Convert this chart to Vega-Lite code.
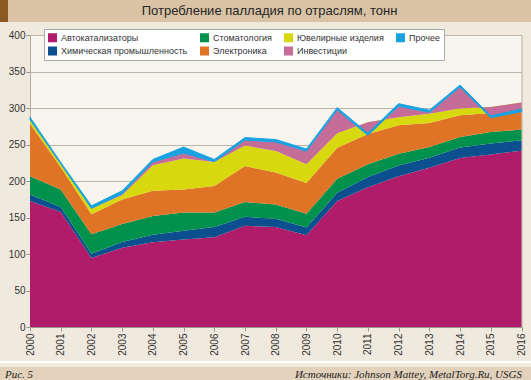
{
  "$schema": "https://vega.github.io/schema/vega-lite/v6.json",
  "background": "#f0e9dd",
  "padding": 0,
  "config": {
    "font": "Liberation Sans",
    "view": {"stroke": null}
  },
  "datasets": {
    "series": [
      {"cat": "Автокатализаторы", "rank": 1},
      {"cat": "Химическая промышленность", "rank": 2},
      {"cat": "Стоматология", "rank": 3},
      {"cat": "Электроника", "rank": 4},
      {"cat": "Ювелирные изделия", "rank": 5},
      {"cat": "Инвестиции", "rank": 6},
      {"cat": "Прочее", "rank": 7}
    ],
    "palladium": [
      {"year": 2000, "cat": "Автокатализаторы", "value": 172.5},
      {"year": 2000, "cat": "Химическая промышленность", "value": 9},
      {"year": 2000, "cat": "Стоматология", "value": 25},
      {"year": 2000, "cat": "Электроника", "value": 72},
      {"year": 2000, "cat": "Ювелирные изделия", "value": 5.5},
      {"year": 2000, "cat": "Инвестиции", "value": 0},
      {"year": 2000, "cat": "Прочее", "value": 3.5},
      {"year": 2001, "cat": "Автокатализаторы", "value": 157.5},
      {"year": 2001, "cat": "Химическая промышленность", "value": 7},
      {"year": 2001, "cat": "Стоматология", "value": 24},
      {"year": 2001, "cat": "Электроника", "value": 30.5},
      {"year": 2001, "cat": "Ювелирные изделия", "value": 4.5},
      {"year": 2001, "cat": "Инвестиции", "value": 0},
      {"year": 2001, "cat": "Прочее", "value": 2},
      {"year": 2002, "cat": "Автокатализаторы", "value": 94.5},
      {"year": 2002, "cat": "Химическая промышленность", "value": 6},
      {"year": 2002, "cat": "Стоматология", "value": 26.5},
      {"year": 2002, "cat": "Электроника", "value": 27.5},
      {"year": 2002, "cat": "Ювелирные изделия", "value": 8},
      {"year": 2002, "cat": "Инвестиции", "value": 0},
      {"year": 2002, "cat": "Прочее", "value": 3.5},
      {"year": 2003, "cat": "Автокатализаторы", "value": 108.5},
      {"year": 2003, "cat": "Химическая промышленность", "value": 8},
      {"year": 2003, "cat": "Стоматология", "value": 24.5},
      {"year": 2003, "cat": "Электроника", "value": 33.5},
      {"year": 2003, "cat": "Ювелирные изделия", "value": 6},
      {"year": 2003, "cat": "Инвестиции", "value": 2},
      {"year": 2003, "cat": "Прочее", "value": 4},
      {"year": 2004, "cat": "Автокатализаторы", "value": 116},
      {"year": 2004, "cat": "Химическая промышленность", "value": 10.5},
      {"year": 2004, "cat": "Стоматология", "value": 25.5},
      {"year": 2004, "cat": "Электроника", "value": 34.5},
      {"year": 2004, "cat": "Ювелирные изделия", "value": 35},
      {"year": 2004, "cat": "Инвестиции", "value": 4.5},
      {"year": 2004, "cat": "Прочее", "value": 3.5},
      {"year": 2005, "cat": "Автокатализаторы", "value": 119.7},
      {"year": 2005, "cat": "Химическая промышленность", "value": 12},
      {"year": 2005, "cat": "Стоматология", "value": 25},
      {"year": 2005, "cat": "Электроника", "value": 31.5},
      {"year": 2005, "cat": "Ювелирные изделия", "value": 42.5},
      {"year": 2005, "cat": "Инвестиции", "value": 7.5},
      {"year": 2005, "cat": "Прочее", "value": 8.3},
      {"year": 2006, "cat": "Автокатализаторы", "value": 123},
      {"year": 2006, "cat": "Химическая промышленность", "value": 14},
      {"year": 2006, "cat": "Стоматология", "value": 19.7},
      {"year": 2006, "cat": "Электроника", "value": 36.3},
      {"year": 2006, "cat": "Ювелирные изделия", "value": 33},
      {"year": 2006, "cat": "Инвестиции", "value": 0.5},
      {"year": 2006, "cat": "Прочее", "value": 3},
      {"year": 2007, "cat": "Автокатализаторы", "value": 138.6},
      {"year": 2007, "cat": "Химическая промышленность", "value": 12.3},
      {"year": 2007, "cat": "Стоматология", "value": 20.3},
      {"year": 2007, "cat": "Электроника", "value": 49.3},
      {"year": 2007, "cat": "Ювелирные изделия", "value": 28},
      {"year": 2007, "cat": "Инвестиции", "value": 7.5},
      {"year": 2007, "cat": "Прочее", "value": 3.5},
      {"year": 2008, "cat": "Автокатализаторы", "value": 137},
      {"year": 2008, "cat": "Химическая промышленность", "value": 11.3},
      {"year": 2008, "cat": "Стоматология", "value": 19.5},
      {"year": 2008, "cat": "Электроника", "value": 43.7},
      {"year": 2008, "cat": "Ювелирные изделия", "value": 29.5},
      {"year": 2008, "cat": "Инвестиции", "value": 12.5},
      {"year": 2008, "cat": "Прочее", "value": 3.3},
      {"year": 2009, "cat": "Автокатализаторы", "value": 125.6},
      {"year": 2009, "cat": "Химическая промышленность", "value": 10.6},
      {"year": 2009, "cat": "Стоматология", "value": 19},
      {"year": 2009, "cat": "Электроника", "value": 42},
      {"year": 2009, "cat": "Ювелирные изделия", "value": 25.6},
      {"year": 2009, "cat": "Инвестиции", "value": 18},
      {"year": 2009, "cat": "Прочее", "value": 3},
      {"year": 2010, "cat": "Автокатализаторы", "value": 172.5},
      {"year": 2010, "cat": "Химическая промышленность", "value": 11.5},
      {"year": 2010, "cat": "Стоматология", "value": 19},
      {"year": 2010, "cat": "Электроника", "value": 42.5},
      {"year": 2010, "cat": "Ювелирные изделия", "value": 20},
      {"year": 2010, "cat": "Инвестиции", "value": 32},
      {"year": 2010, "cat": "Прочее", "value": 3},
      {"year": 2011, "cat": "Автокатализаторы", "value": 191.5},
      {"year": 2011, "cat": "Химическая промышленность", "value": 14},
      {"year": 2011, "cat": "Стоматология", "value": 17.5},
      {"year": 2011, "cat": "Электроника", "value": 41.5},
      {"year": 2011, "cat": "Ювелирные изделия", "value": 16},
      {"year": 2011, "cat": "Инвестиции", "value": -18},
      {"year": 2011, "cat": "Прочее", "value": 3},
      {"year": 2012, "cat": "Автокатализаторы", "value": 206.4},
      {"year": 2012, "cat": "Химическая промышленность", "value": 15},
      {"year": 2012, "cat": "Стоматология", "value": 16},
      {"year": 2012, "cat": "Электроника", "value": 39},
      {"year": 2012, "cat": "Ювелирные изделия", "value": 11},
      {"year": 2012, "cat": "Инвестиции", "value": 15},
      {"year": 2012, "cat": "Прочее", "value": 3.5},
      {"year": 2013, "cat": "Автокатализаторы", "value": 218},
      {"year": 2013, "cat": "Химическая промышленность", "value": 14},
      {"year": 2013, "cat": "Стоматология", "value": 14.5},
      {"year": 2013, "cat": "Электроника", "value": 33},
      {"year": 2013, "cat": "Ювелирные изделия", "value": 12.5},
      {"year": 2013, "cat": "Инвестиции", "value": 2},
      {"year": 2013, "cat": "Прочее", "value": 3},
      {"year": 2014, "cat": "Автокатализаторы", "value": 231.5},
      {"year": 2014, "cat": "Химическая промышленность", "value": 14.3},
      {"year": 2014, "cat": "Стоматология", "value": 14.5},
      {"year": 2014, "cat": "Электроника", "value": 29.7},
      {"year": 2014, "cat": "Ювелирные изделия", "value": 9.2},
      {"year": 2014, "cat": "Инвестиции", "value": 29.6},
      {"year": 2014, "cat": "Прочее", "value": 2.7},
      {"year": 2015, "cat": "Автокатализаторы", "value": 236.2},
      {"year": 2015, "cat": "Химическая промышленность", "value": 15},
      {"year": 2015, "cat": "Стоматология", "value": 15.9},
      {"year": 2015, "cat": "Электроника", "value": 26},
      {"year": 2015, "cat": "Ювелирные изделия", "value": 8.3},
      {"year": 2015, "cat": "Инвестиции", "value": -14.8},
      {"year": 2015, "cat": "Прочее", "value": 2.7},
      {"year": 2016, "cat": "Автокатализаторы", "value": 241.6},
      {"year": 2016, "cat": "Химическая промышленность", "value": 14.2},
      {"year": 2016, "cat": "Стоматология", "value": 14.6},
      {"year": 2016, "cat": "Электроника", "value": 28.6},
      {"year": 2016, "cat": "Ювелирные изделия", "value": 8.4},
      {"year": 2016, "cat": "Инвестиции", "value": -12.4},
      {"year": 2016, "cat": "Прочее", "value": 3.5}
    ]
  },
  "spacing": 6,
  "resolve": {"scale": {"color": "independent"}, "legend": {"color": "independent"}},
  "vconcat": [
    {
      "spacing": 0,
      "hconcat": [
        {
          "width": 8,
          "height": 22,
          "view": {"fill": "#8b5a22", "stroke": null},
          "data": {"values": [{"t": " "}]},
          "mark": {"type": "text"},
          "encoding": {"text": {"field": "t"}}
        },
        {
          "width": 523,
          "height": 22,
          "view": {"fill": "#d9c3a4", "stroke": null},
          "data": {"values": [{"t": "Потребление палладия по отраслям, тонн"}]},
          "mark": {"type": "text", "fontSize": 13, "color": "#262626"},
          "encoding": {"text": {"field": "t"}}
        }
      ]
    },
    {
      "spacing": 0,
      "resolve": {"scale": {"color": "independent"}, "legend": {"color": "independent"}},
      "vconcat": [
        {
          "spacing": 0,
          "bounds": "flush",
          "resolve": {"scale": {"y": "shared", "color": "independent"}, "legend": {"color": "independent"}},
          "hconcat": [
            {
              "width": 30,
              "height": 292,
              "data": {"values": [{"v": 0}, {"v": 400}]},
              "mark": {"type": "point", "opacity": 0},
              "encoding": {
                "y": {
                  "field": "v", "type": "quantitative", "title": null,
                  "scale": {"domain": [0, 400], "nice": false},
                  "axis": {
                    "title": null, "values": [0,50,100,150,200,250,300,350,400], "offset": -30, "labelOverlap": false,
                    "labelFontSize": 10, "labelColor": "#333333", "tickSize": 4, "tickColor": "#9c968d",
                    "domainColor": "#9c968d", "labelPadding": 1, "grid": false
                  }
                }
              }
            },
            {
              "width": 491.5,
              "height": 292,
              "view": {"fill": "#f8f4ee", "stroke": "#b3aca2"},
              "data": {"name": "palladium"},
              "transform": [
                {"lookup": "cat", "from": {"data": {"name": "series"}, "key": "cat", "fields": ["rank"]}},
                {"window": [{"op": "sum", "field": "value", "as": "hi"}], "groupby": ["year"], "sort": [{"field": "rank"}], "frame": [null, 0]},
                {"calculate": "datum.hi - datum.value", "as": "lo"}
              ],
              "encoding": {
                "x": {
                  "field": "year", "type": "quantitative", "title": null,
                  "scale": {"domain": [2000, 2016], "nice": false, "zero": false},
                  "axis": {
                    "title": null, "values": [2000,2001,2002,2003,2004,2005,2006,2007,2008,2009,2010,2011,2012,2013,2014,2015,2016],
                    "format": "d", "labelAngle": -90, "labelFontSize": 10, "labelColor": "#333333", "labelOverlap": false,
                    "tickSize": 4, "tickColor": "#9c968d", "domainColor": "#9c968d", "labelPadding": 2, "grid": false
                  }
                },
                "y": {
                  "field": "hi", "type": "quantitative", "stack": null, "title": null,
                  "scale": {"domain": [0, 400], "nice": false},
                  "axis": {
                    "title": null, "values": [0,50,100,150,200,250,300,350,400],
                    "labels": false, "ticks": false, "domain": false, "grid": true, "gridColor": "#bdb5aa", "gridWidth": 1
                  }
                },
                "y2": {"field": "lo"},
                "color": {
                  "field": "cat", "type": "nominal",
                  "scale": {
                    "domain": ["Автокатализаторы", "Химическая промышленность", "Стоматология", "Электроника", "Ювелирные изделия", "Инвестиции", "Прочее"],
                    "range": ["#b01c6a", "#0b4f8f", "#00924d", "#e07426", "#d8d80e", "#c56c99", "#18a3e0"]
                  },
                  "legend": {
                    "title": null, "orient": "none", "legendX": 14, "legendY": -6, "columns": 4, "gridAlign": "each",
                    "symbolType": "square", "symbolSize": 81, "symbolStrokeWidth": 0, "symbolOpacity": 1,
                    "labelFontSize": 9, "labelColor": "#333333", "labelOffset": 4, "labelLimit": 300,
                    "fillColor": "#ffffff", "strokeColor": "#a9a9a9", "padding": 4, "columnPadding": 12, "rowPadding": 3.5
                  }
                }
              },
              "layer": [
                {"transform": [{"filter": "datum.cat === 'Автокатализаторы'"}], "mark": {"type": "area", "opacity": 1}},
                {"transform": [{"filter": "datum.cat === 'Химическая промышленность'"}], "mark": {"type": "area", "opacity": 1}},
                {"transform": [{"filter": "datum.cat === 'Стоматология'"}], "mark": {"type": "area", "opacity": 1}},
                {"transform": [{"filter": "datum.cat === 'Электроника'"}], "mark": {"type": "area", "opacity": 1}},
                {"transform": [{"filter": "datum.cat === 'Ювелирные изделия'"}], "mark": {"type": "area", "opacity": 1}},
                {"transform": [{"filter": "datum.cat === 'Инвестиции'"}], "mark": {"type": "area", "opacity": 1}},
                {"transform": [{"filter": "datum.cat === 'Прочее'"}], "mark": {"type": "area", "opacity": 1, "stroke": "#18a3e0", "strokeWidth": 1}}
              ]
            }
          ]
        },
        {
          "spacing": 0,
          "vconcat": [
            {
              "width": 531,
              "height": 2,
              "view": {"fill": "#ffffff", "stroke": null},
              "data": {"values": [{"t": " "}]},
              "mark": {"type": "text"},
              "encoding": {"text": {"field": "t"}}
            },
            {
              "width": 531,
              "height": 16,
              "view": {"fill": "#e3d2bb", "stroke": null},
              "data": {"values": [{"t": "Рис. 5", "p": 0}, {"t": "Источники: Johnson Mattey, MetalTorg.Ru, USGS", "p": 1}]},
              "layer": [
                {
                  "transform": [{"filter": "datum.p === 0"}],
                  "mark": {"type": "text", "align": "left", "dx": 5, "font": "Liberation Serif", "fontStyle": "italic", "fontSize": 11, "color": "#222222"},
                  "encoding": {
                    "x": {"field": "p", "type": "quantitative", "scale": {"domain": [0, 1]}, "axis": null},
                    "text": {"field": "t"}
                  }
                },
                {
                  "transform": [{"filter": "datum.p === 1"}],
                  "mark": {"type": "text", "align": "right", "dx": -9, "font": "Liberation Serif", "fontStyle": "italic", "fontSize": 11, "color": "#222222"},
                  "encoding": {
                    "x": {"field": "p", "type": "quantitative", "scale": {"domain": [0, 1]}, "axis": null},
                    "text": {"field": "t"}
                  }
                }
              ]
            }
          ]
        }
      ]
    }
  ]
}
